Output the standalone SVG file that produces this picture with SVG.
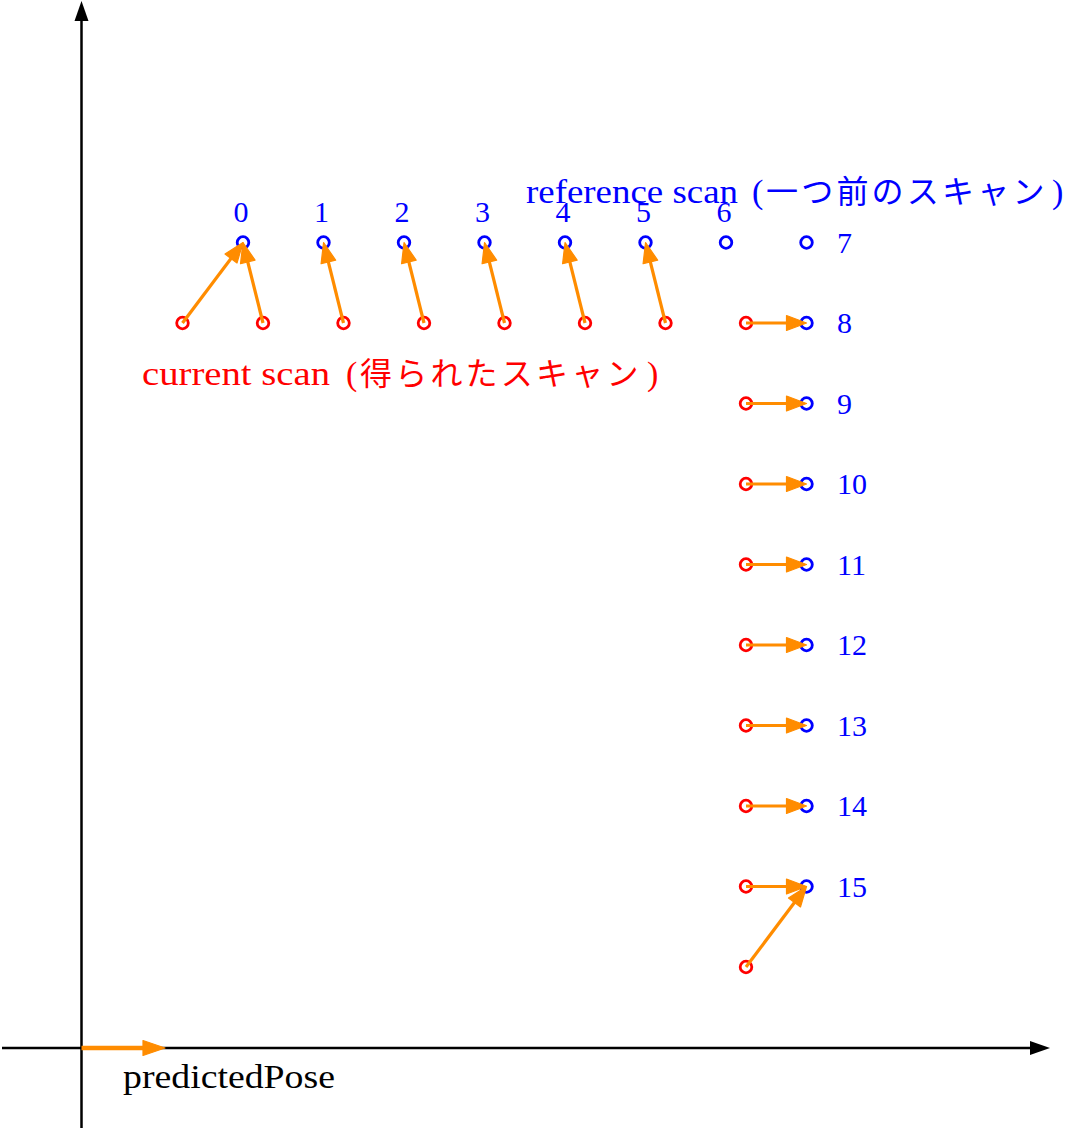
<svg xmlns="http://www.w3.org/2000/svg" width="1071" height="1131" viewBox="0 0 1071 1131">
<style>
.ref{fill:none;stroke:#0000FF;stroke-width:2.8}
.cur{fill:none;stroke:#FF0000;stroke-width:2.8}
.lab{font-family:"Liberation Serif","DejaVu Serif",serif}
.num{font-family:"Liberation Serif","DejaVu Serif",serif;font-size:30px;fill:#0000FF}
.jp{font-family:"Noto Sans CJK JP","Noto Sans CJK SC",sans-serif;font-size:32px;letter-spacing:3.2px}
.con{stroke:#FF8C00;stroke-width:3.2;fill:none;marker-end:url(#ah)}
.axis{stroke:#000;stroke-width:2.5;fill:none}
</style>
<defs>
<marker id="ah" markerUnits="userSpaceOnUse" markerWidth="20" markerHeight="15" viewBox="0 0 20 15" refX="9" refY="7.5" orient="auto" overflow="visible">
<path d="M0,0 L20,7.5 L0,15 z" fill="#FF8C00" stroke="#FF8C00" stroke-width="1.2" stroke-linejoin="round"/>
</marker>
</defs>
<rect width="1071" height="1131" fill="#fff"/>
<g id="axes">
<line class="axis" x1="81.5" y1="1128" x2="81.5" y2="18"/>
<polygon points="81.5,1 74.5,21 88.5,21" fill="#000"/>
<line class="axis" x1="2" y1="1048" x2="1032" y2="1048"/>
<polygon points="1050,1048 1030,1041 1030,1055" fill="#000"/>
</g>
<g id="predictedPose">
<line x1="81.5" y1="1048" x2="145" y2="1048" stroke="#FF8C00" stroke-width="4.5"/>
<polygon points="165,1048 143,1040.5 143,1055.5" fill="#FF8C00" stroke="#FF8C00" stroke-width="1.2" stroke-linejoin="round"/>
<text class="lab" x="123" y="1088" font-size="34" textLength="212" lengthAdjust="spacingAndGlyphs">predictedPose</text>
</g>
<g id="label-reference">
<text class="lab" y="203" font-size="34" fill="#0000FF"><tspan x="526" textLength="212" lengthAdjust="spacingAndGlyphs">reference scan</tspan><tspan x="752">(</tspan><tspan class="jp" x="766">一つ前のスキャン</tspan><tspan x="1052">)</tspan></text>
</g>
<g id="label-current">
<text class="lab" y="385" font-size="34" fill="#FF0000"><tspan x="142" textLength="188" lengthAdjust="spacingAndGlyphs">current scan</tspan><tspan x="346">(</tspan><tspan class="jp" x="360">得られたスキャン</tspan><tspan x="647">)</tspan></text>
</g>
<g id="ref-0"><circle class="ref" cx="243" cy="242.5" r="5.8"/><text class="num" x="241" y="222" text-anchor="middle">0</text></g>
<g id="ref-1"><circle class="ref" cx="323.5" cy="242.5" r="5.8"/><text class="num" x="321.5" y="222" text-anchor="middle">1</text></g>
<g id="ref-2"><circle class="ref" cx="404" cy="242.5" r="5.8"/><text class="num" x="402" y="222" text-anchor="middle">2</text></g>
<g id="ref-3"><circle class="ref" cx="484.5" cy="242.5" r="5.8"/><text class="num" x="482.5" y="222" text-anchor="middle">3</text></g>
<g id="ref-4"><circle class="ref" cx="565" cy="242.5" r="5.8"/><text class="num" x="563" y="222" text-anchor="middle">4</text></g>
<g id="ref-5"><circle class="ref" cx="645.5" cy="242.5" r="5.8"/><text class="num" x="643.5" y="222" text-anchor="middle">5</text></g>
<g id="ref-6"><circle class="ref" cx="726" cy="242.5" r="5.8"/><text class="num" x="724" y="222" text-anchor="middle">6</text></g>
<g id="ref-7"><circle class="ref" cx="806.5" cy="242.5" r="5.8"/><text class="num" x="837" y="252.5">7</text></g>
<g id="ref-8"><circle class="ref" cx="806.5" cy="323" r="5.8"/><text class="num" x="837" y="333">8</text></g>
<g id="ref-9"><circle class="ref" cx="806.5" cy="403.5" r="5.8"/><text class="num" x="837" y="413.5">9</text></g>
<g id="ref-10"><circle class="ref" cx="806.5" cy="484" r="5.8"/><text class="num" x="837" y="494">10</text></g>
<g id="ref-11"><circle class="ref" cx="806.5" cy="564.5" r="5.8"/><text class="num" x="837" y="574.5">11</text></g>
<g id="ref-12"><circle class="ref" cx="806.5" cy="645" r="5.8"/><text class="num" x="837" y="655">12</text></g>
<g id="ref-13"><circle class="ref" cx="806.5" cy="725.5" r="5.8"/><text class="num" x="837" y="735.5">13</text></g>
<g id="ref-14"><circle class="ref" cx="806.5" cy="806" r="5.8"/><text class="num" x="837" y="816">14</text></g>
<g id="ref-15"><circle class="ref" cx="806.5" cy="886.5" r="5.8"/><text class="num" x="837" y="896.5">15</text></g>
<g id="cur-0"><circle class="cur" cx="182.5" cy="323" r="5.8"/></g>
<g id="cur-1"><circle class="cur" cx="263" cy="323" r="5.8"/></g>
<g id="cur-2"><circle class="cur" cx="343.5" cy="323" r="5.8"/></g>
<g id="cur-3"><circle class="cur" cx="424" cy="323" r="5.8"/></g>
<g id="cur-4"><circle class="cur" cx="504.5" cy="323" r="5.8"/></g>
<g id="cur-5"><circle class="cur" cx="585" cy="323" r="5.8"/></g>
<g id="cur-6"><circle class="cur" cx="665.5" cy="323" r="5.8"/></g>
<g id="cur-7"><circle class="cur" cx="746" cy="323" r="5.8"/></g>
<g id="cur-8"><circle class="cur" cx="746" cy="403.5" r="5.8"/></g>
<g id="cur-9"><circle class="cur" cx="746" cy="484" r="5.8"/></g>
<g id="cur-10"><circle class="cur" cx="746" cy="564.5" r="5.8"/></g>
<g id="cur-11"><circle class="cur" cx="746" cy="645" r="5.8"/></g>
<g id="cur-12"><circle class="cur" cx="746" cy="725.5" r="5.8"/></g>
<g id="cur-13"><circle class="cur" cx="746" cy="806" r="5.8"/></g>
<g id="cur-14"><circle class="cur" cx="746" cy="886.5" r="5.8"/></g>
<g id="cur-15"><circle class="cur" cx="746" cy="967" r="5.8"/></g>
<g id="connectors">
<line class="con" x1="182.5" y1="323" x2="236.4" y2="251.3"/>
<line class="con" x1="263" y1="323" x2="245.6" y2="253.2"/>
<line class="con" x1="343.5" y1="323" x2="326.2" y2="253.2"/>
<line class="con" x1="424" y1="323" x2="406.7" y2="253.2"/>
<line class="con" x1="504.5" y1="323" x2="487.2" y2="253.2"/>
<line class="con" x1="585" y1="323" x2="567.7" y2="253.2"/>
<line class="con" x1="665.5" y1="323" x2="648.2" y2="253.2"/>
<line class="con" x1="746" y1="323" x2="795.5" y2="323"/>
<line class="con" x1="746" y1="403.5" x2="795.5" y2="403.5"/>
<line class="con" x1="746" y1="484" x2="795.5" y2="484"/>
<line class="con" x1="746" y1="564.5" x2="795.5" y2="564.5"/>
<line class="con" x1="746" y1="645" x2="795.5" y2="645"/>
<line class="con" x1="746" y1="725.5" x2="795.5" y2="725.5"/>
<line class="con" x1="746" y1="806" x2="795.5" y2="806"/>
<line class="con" x1="746" y1="886.5" x2="795.5" y2="886.5"/>
<line class="con" x1="746" y1="967" x2="799.9" y2="895.3"/>
</g>
</svg>
